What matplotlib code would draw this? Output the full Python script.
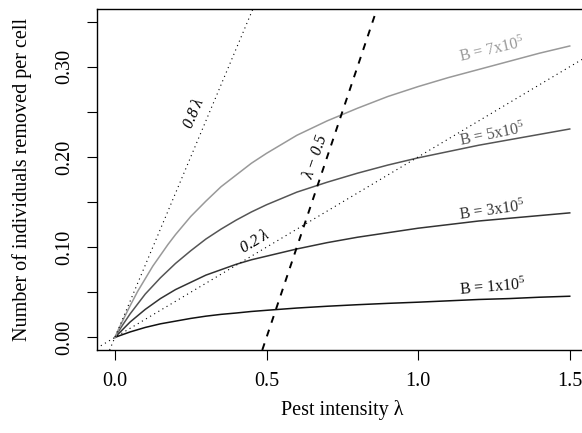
import matplotlib
matplotlib.use('Agg')
import matplotlib.pyplot as plt

plt.rcParams['font.family'] = ['Liberation Serif', 'DejaVu Serif']
plt.rcParams['mathtext.fontset'] = 'custom'
plt.rcParams['mathtext.rm'] = 'Liberation Serif'
plt.rcParams['mathtext.it'] = 'Liberation Serif:italic'

# pest intensity grid and removals per cell for each B
lam = [0.0, 0.0125, 0.025, 0.05, 0.075, 0.1, 0.125, 0.15, 0.175, 0.2, 0.25,
       0.3, 0.35, 0.4, 0.45, 0.5, 0.6, 0.7, 0.8, 0.9, 1.0, 1.1, 1.2, 1.3,
       1.4, 1.5]
rem_b1 = [0.0, 0.0015, 0.003, 0.006, 0.0085, 0.011, 0.013, 0.015, 0.0165,
          0.018, 0.021, 0.0235, 0.0255, 0.027, 0.0287, 0.030, 0.0325,
          0.0345, 0.0362, 0.0377, 0.039, 0.0405, 0.042, 0.043, 0.0445,
          0.0456]
rem_b3 = [0.0, 0.0042, 0.0085, 0.017, 0.024, 0.031, 0.037, 0.043, 0.048,
          0.053, 0.061, 0.069, 0.075, 0.081, 0.086, 0.090, 0.098, 0.105,
          0.111, 0.116, 0.121, 0.125, 0.129, 0.132, 0.135, 0.138]
rem_b5 = [0.0, 0.0069, 0.0135, 0.026, 0.037, 0.048, 0.057, 0.066, 0.074,
          0.082, 0.096, 0.109, 0.120, 0.130, 0.139, 0.147, 0.161, 0.172,
          0.182, 0.191, 0.199, 0.206, 0.213, 0.219, 0.225, 0.231]
rem_b7 = [0.0, 0.0094, 0.018, 0.035, 0.051, 0.065, 0.079, 0.091, 0.103,
          0.114, 0.134, 0.151, 0.167, 0.180, 0.193, 0.204, 0.224, 0.240,
          0.254, 0.267, 0.278, 0.288, 0.297, 0.306, 0.315, 0.323]

curves = [rem_b1, rem_b3, rem_b5, rem_b7]
curve_cols = ['#111111', '#333333', '#555555', '#999999']
curve_labels = [r'B = 1x10$^{5}$', r'B = 3x10$^{5}$', r'B = 5x10$^{5}$',
                r'B = 7x10$^{5}$']
label_xy = [(1.245, 0.0552), (1.245, 0.1408), (1.245, 0.2240),
            (1.245, 0.3186)]
label_rot = [5, 8, 11.5, 13]

# reference lines y = a*lambda + b
ref_slope = [0.8, 0.2, 1.0]
ref_icpt = [0.0, 0.0, -0.5]
ref_text = ['0.8\u2009λ', '0.2\u2009λ', 'λ − 0.5']
ref_xy = [(0.262, 0.2486), (0.460, 0.1063), (0.663, 0.1997)]
ref_rot = [67, 31, 71]

xticks = [0.0, 0.5, 1.0, 1.5]
yticks = [0.0, 0.05, 0.10, 0.15, 0.20, 0.25, 0.30, 0.35]

fig = plt.figure(figsize=(5.82, 4.33), dpi=100)
ax = fig.add_axes([0.1662, 0.1917, 0.844, 0.7875])

for ys, c in zip(curves, curve_cols):
    ax.plot(lam, ys, color=c, lw=1.1)

for a, b, ls in zip(ref_slope, ref_icpt, ['dot', 'dot', 'dash']):
    if ls == 'dot':
        ax.axline((0, b), slope=a, color='black', lw=0.8, dashes=(1, 3.3))
    else:
        ax.axline((0, b), slope=a, color='black', lw=1.4, dashes=(3.6, 3.8))

for t, (x, y), r, c in zip(curve_labels, label_xy, label_rot, curve_cols):
    ax.text(x, y, t, color=c, fontsize=11.5, rotation=r,
            rotation_mode='anchor', ha='center', va='center')

for t, (x, y), r in zip(ref_text, ref_xy, ref_rot):
    ax.text(x, y, t, fontsize=11.5, rotation=r, rotation_mode='anchor',
            ha='center', va='center', style='italic')

ax.set_xlim(-0.06, 1.56)
ax.set_ylim(-0.014, 0.364)
ax.set_xticks(xticks)
ax.set_xticklabels(['%.1f' % v for v in xticks])
ax.set_yticks(yticks)
ax.set_yticklabels(['%.2f' % v if i % 2 == 0 else '' for i, v in enumerate(yticks)],
                   rotation=90, va='center')
ax.tick_params(direction='out', length=7.5, width=0.8, labelsize=14.5,
               color='black')
ax.tick_params(axis='x', pad=8)
ax.tick_params(axis='y', pad=9)
for s in ax.spines.values():
    s.set_linewidth(1.0)

ax.set_xlabel('Pest intensity λ', fontsize=14.5, va='center')
ax.xaxis.set_label_coords(0.5, -0.176)
ax.set_ylabel('Number of individuals removed per cell', fontsize=14.5,
              va='center')
ax.yaxis.set_label_coords(-0.152, 0.5)

fig.savefig('out.png', dpi=100)
